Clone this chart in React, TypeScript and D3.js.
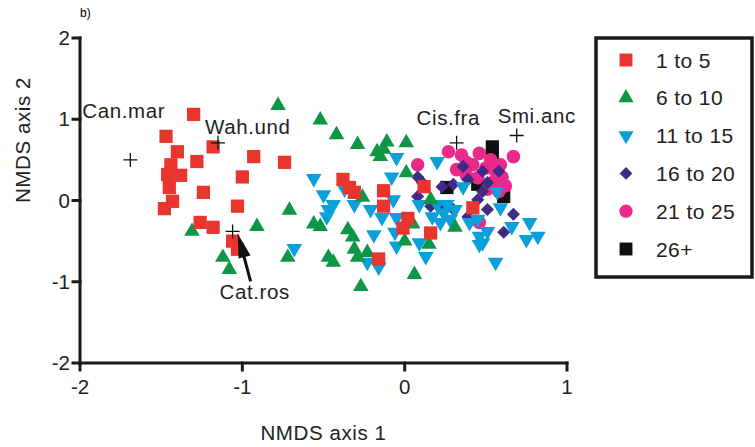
import React, { useRef, useEffect } from "react";
import * as d3 from "d3";

// NMDS scores per age class [axis1, axis2]
const age1to5: [number, number][] = [
  [-1.3, 1.06], [-1.47, 0.79], [-1.4, 0.6], [-1.18, 0.66], [-1.28, 0.48], [-1.44, 0.44],
  [-1.46, 0.32], [-1.38, 0.31], [-1.45, 0.16], [-1.43, -0.01], [-1.48, -0.1], [-1.24, 0.1],
  [-1.03, -0.07], [-1.0, 0.29], [-0.93, 0.54], [-1.26, -0.27], [-1.18, -0.33], [-1.06, -0.5],
  [-1.03, -0.6], [-0.74, 0.47], [-0.38, 0.26], [-0.34, 0.16], [-0.31, 0.1], [-0.13, 0.12],
  [-0.13, -0.07], [0.02, -0.22], [-0.01, -0.34], [0.16, -0.4], [-0.16, -0.72], [0.12, 0.17],
  [0.42, -0.09],
];
const age6to10: [number, number][] = [
  [-0.78, 1.17], [-0.52, 0.99], [-0.42, 0.81], [-0.29, 0.69], [-0.11, 0.72], [0.01, 0.71],
  [-0.17, 0.6], [-0.15, 0.54], [-0.13, 0.63], [0.01, 0.34], [-0.26, 0.04], [-0.71, -0.12],
  [-0.91, -0.32], [-1.31, -0.38], [-0.56, -0.29], [-0.52, -0.32], [-1.12, -0.7], [-1.08, -0.85],
  [-0.72, -0.7], [-0.47, -0.7], [-0.44, -0.76], [-0.35, -0.36], [-0.32, -0.45], [-0.31, -0.6],
  [-0.23, -0.64], [0.0, -0.5], [0.15, -0.54], [0.06, -0.91], [-0.27, -1.06], [0.16, 0.01],
  [0.31, -0.33], [0.05, -0.29], [-0.29, -0.7],
];
const age11to15: [number, number][] = [
  [-0.56, 0.27], [-0.5, 0.07], [-0.44, -0.05], [-0.47, -0.11], [-0.48, -0.2], [-0.68, -0.59],
  [-0.05, 0.53], [-0.08, 0.29], [-0.37, 0.14], [-0.31, -0.05], [-0.21, -0.11], [-0.07, 0.01],
  [-0.14, -0.21], [-0.05, -0.21], [-0.19, -0.42], [-0.06, -0.39], [-0.05, -0.56], [0.09, -0.52],
  [0.13, -0.69], [-0.23, -0.76], [-0.16, -0.82], [0.0, -0.32], [0.2, 0.48], [0.36, 0.17],
  [0.57, 0.11], [0.09, -0.05], [0.2, -0.05], [0.26, -0.05], [0.17, -0.2], [0.31, -0.11],
  [0.28, -0.23], [0.45, -0.23], [0.59, -0.09], [0.51, -0.38], [0.46, -0.44], [0.4, -0.27],
  [0.46, -0.54], [0.56, -0.76], [0.66, -0.32], [0.75, -0.48], [0.77, -0.27], [0.82, -0.44],
  [0.48, -0.52], [0.24, -0.15], [0.22, -0.27],
];
const age16to20: [number, number][] = [
  [0.08, 0.29], [0.08, 0.05], [0.16, -0.07], [0.23, 0.17], [0.3, 0.2], [0.36, 0.42],
  [0.39, 0.26], [0.48, 0.11], [0.51, 0.22], [0.45, 0.01], [0.3, -0.11], [0.39, -0.2],
  [0.51, -0.11], [0.67, -0.17], [0.61, -0.39], [0.23, -0.11], [0.48, 0.36], [0.58, 0.36],
  [0.11, 0.22],
];
const age21to25: [number, number][] = [
  [0.08, 0.44], [0.27, 0.6], [0.32, 0.38], [0.38, 0.47], [0.46, 0.58], [0.42, 0.44],
  [0.5, 0.4], [0.59, 0.44], [0.67, 0.54], [0.6, 0.29], [0.45, 0.28], [0.54, 0.22],
  [0.38, 0.31], [0.58, 0.11], [0.51, 0.14], [0.53, 0.5], [0.62, 0.18], [0.46, -0.27],
  [0.35, 0.56], [0.56, 0.36],
];
const age26plus: [number, number][] = [
  [0.54, 0.66], [0.54, 0.55], [0.61, 0.05], [0.45, 0.2], [0.26, 0.16],
];

const legendLabels = ["1 to 5", "6 to 10", "11 to 15", "16 to 20", "21 to 25", "26+"];
const legendColors = ["#e8352e", "#0c9645", "#0aa0da", "#3f2a84", "#ea2a8b", "#111111"];

const speciesNames = ["Can.mar", "Wah.und", "Cat.ros", "Cis.fra", "Smi.anc"];
const speciesX = [-1.69, -1.15, -1.06, 0.32, 0.69];
const speciesY = [0.5, 0.71, -0.38, 0.71, 0.8];

const xTicks = [-2, -1, 0, 1];
const yTicks = [-2, -1, 0, 1, 2];

const App = () => {
  const svgRef = useRef<SVGSVGElement>(null);

  useEffect(() => {
    document.body.style.margin = "0";
    const svg = d3.select(svgRef.current);
    svg.selectAll("*").remove();
    const font = "Liberation Sans, Arial, sans-serif";
    const fs = 20.5;

    const x = d3.scaleLinear().domain([-2, 1]).range([80, 567]);
    const y = d3.scaleLinear().domain([-2, 2]).range([363, 38]);

    svg.append("text")
      .attr("x", 80).attr("y", 17)
      .attr("font-family", font).attr("font-size", 12)
      .text("b)");

    // marker shapes per class
    const shapes = [
      { sym: d3.symbolSquare, size: 175, rot: 0 },
      { sym: d3.symbolTriangle, size: 105, rot: 0 },
      { sym: d3.symbolTriangle, size: 105, rot: 180 },
      { sym: d3.symbolSquare, size: 85, rot: 45 },
      { sym: d3.symbolCircle, size: 145, rot: 0 },
      { sym: d3.symbolSquare, size: 175, rot: 0 },
    ];
    const groups = [age1to5, age6to10, age11to15, age16to20, age21to25, age26plus];
    const drawOrder = [5, 4, 3, 2, 1, 0];

    const pts = svg.append("g");
    drawOrder.forEach((gi) => {
      const s = shapes[gi];
      const path = d3.symbol().type(s.sym).size(s.size)();
      pts.append("g")
        .selectAll("path")
        .data(groups[gi])
        .join("path")
        .attr("d", path)
        .attr("fill", legendColors[gi])
        .attr("transform", (d) => `translate(${x(d[0])},${y(d[1])}) rotate(${s.rot})`);
    });

    // species scores
    const sp = svg.append("g");
    const labelOff = [[-48, -42], [-13, -9], [-13, 68], [-40, -18], [-19, -13]];
    speciesNames.forEach((name, i) => {
      const px = x(speciesX[i]);
      const py = y(speciesY[i]);
      sp.append("path")
        .attr("d", `M${px - 7},${py}H${px + 7}M${px},${py - 7}V${py + 7}`)
        .attr("stroke", "#111").attr("stroke-width", 1.3);
      sp.append("text")
        .attr("x", px + labelOff[i][0]).attr("y", py + labelOff[i][1])
        .attr("font-family", font).attr("font-size", fs).attr("letter-spacing", 0.6)
        .attr("fill", "#222")
        .text(name);
    });

    // arrow to Cat.ros
    const ax = x(speciesX[2]) + 5;
    const ay = y(speciesY[2]) + 2;
    sp.append("line")
      .attr("x1", ax + 13).attr("y1", ay + 48)
      .attr("x2", ax + 5).attr("y2", ay + 18)
      .attr("stroke", "#111").attr("stroke-width", 3);
    sp.append("path")
      .attr("d", `M${ax},${ay}L${ax + 13},${ay + 22}L${ax + 1},${ay + 25}Z`)
      .attr("fill", "#111");

    // axes
    const axes = svg.append("g")
      .attr("stroke", "#1a1a1a").attr("stroke-width", 3).attr("stroke-linecap", "square");
    axes.append("line").attr("x1", x(-2)).attr("x2", x(-2)).attr("y1", y(2)).attr("y2", y(-2));
    axes.append("line").attr("x1", x(-2)).attr("x2", x(1)).attr("y1", y(-2)).attr("y2", y(-2));
    axes.selectAll(".xt").data(xTicks).join("line")
      .attr("x1", (d) => x(d)).attr("x2", (d) => x(d))
      .attr("y1", y(-2)).attr("y2", y(-2) + 7);
    axes.selectAll(".yt").data(yTicks).join("line")
      .attr("y1", (d) => y(d)).attr("y2", (d) => y(d))
      .attr("x1", x(-2)).attr("x2", x(-2) - 7);

    svg.append("g").selectAll("text").data(xTicks).join("text")
      .attr("x", (d) => x(d)).attr("y", y(-2) + 31)
      .attr("text-anchor", "middle")
      .attr("font-family", font).attr("font-size", fs).attr("fill", "#222")
      .text((d) => (d < 0 ? "-" + Math.abs(d) : String(d)));
    svg.append("g").selectAll("text").data(yTicks).join("text")
      .attr("x", x(-2) - 10).attr("y", (d) => y(d) + 7)
      .attr("text-anchor", "end")
      .attr("font-family", font).attr("font-size", fs).attr("fill", "#222")
      .text((d) => (d < 0 ? "-" + Math.abs(d) : String(d)));

    svg.append("text")
      .attr("x", (x(-2) + x(1)) / 2).attr("y", 440)
      .attr("text-anchor", "middle")
      .attr("font-family", font).attr("font-size", fs).attr("letter-spacing", 0.6)
      .attr("fill", "#222")
      .text("NMDS axis 1");
    svg.append("text")
      .attr("transform", `translate(30,140) rotate(-90)`)
      .attr("text-anchor", "middle")
      .attr("font-family", font).attr("font-size", fs).attr("letter-spacing", 0.6)
      .attr("fill", "#222")
      .text("NMDS axis 2");

    // legend
    const lg = svg.append("g");
    lg.append("rect")
      .attr("x", 596).attr("y", 38).attr("width", 156).attr("height", 239)
      .attr("fill", "white").attr("stroke", "#1a1a1a").attr("stroke-width", 3.5);
    legendLabels.forEach((lab, i) => {
      const ly = 60 + i * 37.8;
      const s = shapes[i];
      lg.append("path")
        .attr("d", d3.symbol().type(s.sym).size(s.size * 0.95)())
        .attr("fill", legendColors[i])
        .attr("transform", `translate(626,${ly}) rotate(${s.rot})`);
      lg.append("text")
        .attr("x", 656).attr("y", ly + 7.5)
        .attr("font-family", font).attr("font-size", 21).attr("letter-spacing", 0.4)
        .attr("fill", "#222")
        .text(lab);
    });
  }, []);

  return <svg ref={svgRef} width={755} height={447} style={{ display: "block" }} />;
};

export default App;
